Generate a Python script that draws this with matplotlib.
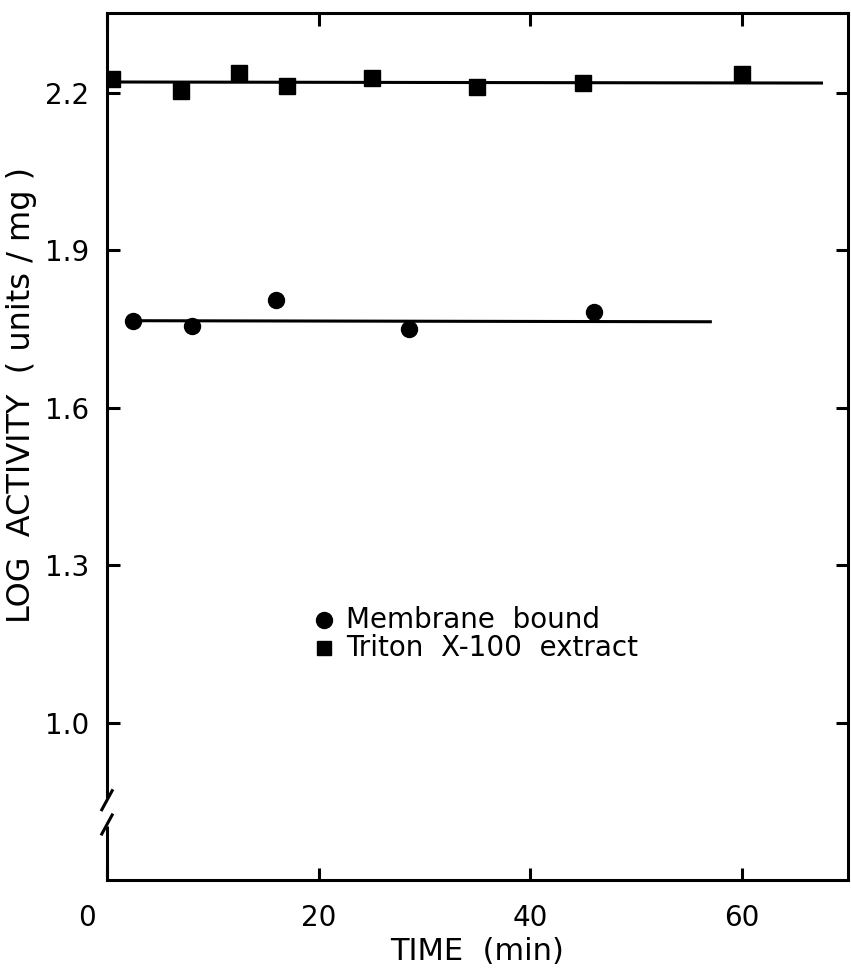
import matplotlib
matplotlib.use("Agg")
import matplotlib.pyplot as plt
from matplotlib.transforms import ScaledTranslation
import numpy as np

# Triton X-100 extract (squares)
triton_time = [0.5, 7, 12.5, 17, 25, 35, 45, 60]
triton_log_activity = [2.227, 2.203, 2.238, 2.213, 2.228, 2.212, 2.220, 2.237]
triton_fit_time = [0.5, 67.5]
triton_fit_value = [2.221, 2.219]

# Membrane bound (circles)
membrane_time = [2.5, 8, 16, 28.5, 46]
membrane_log_activity = [1.766, 1.755, 1.806, 1.751, 1.782]
membrane_fit_time = [2.5, 57]
membrane_fit_value = [1.766, 1.764]

x_ticks = [0, 20, 40, 60]
y_ticks = [1.0, 1.3, 1.6, 1.9, 2.2]
y_tick_labels = ["1.0", "1.3", "1.6", "1.9", "2.2"]

legend_labels = ["Membrane  bound", "Triton  X-100  extract"]

plt.rcParams["font.family"] = ["DejaVu Sans"]

fig = plt.figure(figsize=(8.51, 9.76), dpi=100)
ax = fig.add_axes([0.1257, 0.0984, 0.8707, 0.888])

ax.set_xlim(0, 70)
ax.set_ylim(0.70, 2.352)

lw = 2.2
ax.plot(triton_fit_time, triton_fit_value, color="black", lw=2.2, zorder=2)
ax.plot(membrane_fit_time, membrane_fit_value, color="black", lw=2.2, zorder=2)
ax.plot(triton_time, triton_log_activity, ls="none", marker="s", ms=12,
        color="black", zorder=3)
ax.plot(membrane_time, membrane_log_activity, ls="none", marker="o", ms=11.5,
        color="black", zorder=3)

ax.set_xticks(x_ticks)
ax.set_yticks(y_ticks)
ax.set_yticklabels(y_tick_labels)
ax.tick_params(direction="in", length=9, width=lw, labelsize=20,
               top=True, right=True, pad=13)
ax.tick_params(axis="x", pad=17)
ax.set_xticklabels([str(t) for t in x_ticks])

# nudge the "0" label to the left of the corner
zero_label = ax.get_xticklabels()[0]
zero_label.set_transform(zero_label.get_transform() +
                         ScaledTranslation(-0.2, 0, fig.dpi_scale_trans))

for side in ["top", "right", "bottom"]:
    ax.spines[side].set_linewidth(lw)

# left spine with an axis break near the bottom
ax.spines["left"].set_visible(False)
brk_lo, brk_hi = 0.062, 0.094
ax.plot([0, 0], [0, brk_lo], transform=ax.transAxes, color="black",
        lw=lw, clip_on=False, solid_capstyle="butt")
ax.plot([0, 0], [brk_hi, 1], transform=ax.transAxes, color="black",
        lw=lw, clip_on=False, solid_capstyle="butt")
dx, dy = 0.007, 0.011
for yc in (brk_lo + 0.002, brk_hi - 0.002):
    ax.plot([-dx, dx], [yc - dy, yc + dy], transform=ax.transAxes,
            color="black", lw=lw, clip_on=False)

ax.set_xlabel("TIME  (min)", fontsize=22, labelpad=4)
ax.set_ylabel("LOG  ACTIVITY  ( units / mg )", fontsize=23)
ax.yaxis.set_label_coords(-0.094, 0.56)

# legend drawn as marker + text rows
ax.plot([20.5], [1.196], ls="none", marker="o", ms=11.5, color="black")
ax.plot([20.5], [1.142], ls="none", marker="s", ms=10, color="black")
ax.text(22.6, 1.196, legend_labels[0], fontsize=20, va="center", ha="left")
ax.text(22.6, 1.142, legend_labels[1], fontsize=20, va="center", ha="left")

fig.savefig("out.png", dpi=100, facecolor="white")
